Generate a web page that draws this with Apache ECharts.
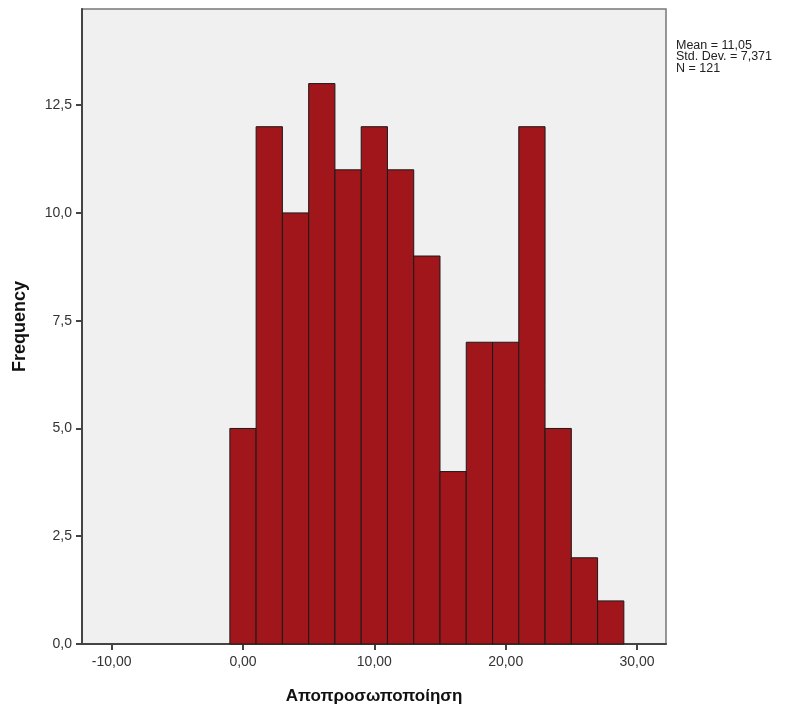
<!DOCTYPE html>
<html>
<head>
<meta charset="utf-8">
<script src="https://cdn.jsdelivr.net/npm/echarts@6/dist/echarts.min.js"></script>
<style>
  html, body { margin: 0; padding: 0; background: #fff; }
  #chart { width: 796px; height: 713px; }
</style>
</head>
<body>
<div id="chart"></div>
<script>
// histogram bins (lower edge, upper edge) and counts
const binStarts = [-1, 1, 3, 5, 7, 9, 11, 13, 15, 17, 19, 21, 23, 25, 27]
const binWidth = 2
const counts = [5, 12, 10, 13, 11, 12, 11, 9, 4, 7, 7, 12, 5, 2, 1]

// axis ticks
const xTicks = [-10, 0, 10, 20, 30]
const yTicks = [0, 2.5, 5, 7.5, 10, 12.5]

const stats = ['Mean = 11,05', 'Std. Dev. = 7,371', 'N = 121']

const barData = binStarts.map((s, i) => [s, s + binWidth, counts[i]])

const chart = echarts.init(document.getElementById('chart'))

chart.setOption({
  animation: false,
  textStyle: { fontFamily: 'Liberation Sans, Arial, sans-serif' },
  grid: {
    left: 82,
    top: 9,
    width: 584,
    height: 635,
    show: true,
    backgroundColor: '#F0F0F0',
    borderColor: '#777',
    borderWidth: 1.5
  },
  xAxis: {
    type: 'value',
    min: -12.26,
    max: 32.21,
    name: 'Αποπροσωποποίηση',
    nameLocation: 'middle',
    nameGap: 44,
    nameTextStyle: { fontSize: 17, fontWeight: 'bold', color: '#111' },
    axisLine: { show: true, onZero: false, lineStyle: { color: '#444', width: 2 } },
    axisTick: { show: true, length: 6, customValues: xTicks, lineStyle: { color: '#444', width: 2 } },
    axisLabel: {
      customValues: xTicks,
      margin: 11,
      fontSize: 14,
      color: '#333',
      formatter: v => v.toFixed(2).replace('.', ',')
    },
    splitLine: { show: false }
  },
  yAxis: {
    type: 'value',
    min: 0,
    max: 14.73,
    name: 'Frequency',
    nameLocation: 'middle',
    nameGap: 53,
    nameTextStyle: { fontSize: 18, fontWeight: 'bold', color: '#111' },
    axisLine: { show: true, onZero: false, lineStyle: { color: '#444', width: 2 } },
    axisTick: { show: true, length: 6, customValues: yTicks, lineStyle: { color: '#444', width: 2 } },
    axisLabel: {
      customValues: yTicks,
      margin: 10,
      fontSize: 14,
      color: '#333',
      formatter: v => v.toFixed(1).replace('.', ',')
    },
    splitLine: { show: false }
  },
  series: [
    {
      type: 'custom',
      data: barData,
      renderItem: (params, api) => {
        const p0 = api.coord([api.value(0), api.value(2)])
        const p1 = api.coord([api.value(1), 0])
        return {
          type: 'rect',
          shape: { x: p0[0], y: p0[1], width: p1[0] - p0[0], height: p1[1] - p0[1] },
          style: { fill: '#A0161B', stroke: '#1a1a1a', lineWidth: 1 }
        }
      },
      encode: { x: [0, 1], y: 2 }
    }
  ],
  graphic: [
    {
      type: 'text',
      left: 676,
      top: 39,
      style: {
        text: stats.join('\n'),
        font: '12.5px Liberation Sans, Arial, sans-serif',
        lineHeight: 11.5,
        fill: '#222'
      }
    }
  ]
})
</script>
</body>
</html>
